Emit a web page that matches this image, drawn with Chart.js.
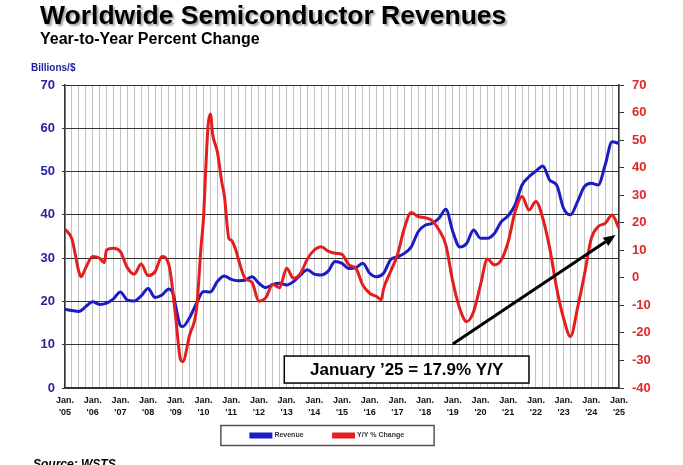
<!DOCTYPE html>
<html>
<head>
<meta charset="utf-8">
<script src="https://cdn.jsdelivr.net/npm/chart.js@4"></script>
<style>
  html, body { margin: 0; padding: 0; background: #fff; width: 683px; height: 465px; overflow: hidden; }
  body { font-family: "Liberation Sans", Arial, sans-serif; }
  #wrap { position: relative; width: 683px; height: 465px; }
  canvas { position: absolute; left: 0; top: 0; }
  .t { position: absolute; white-space: nowrap; color: #000; }
  #title { left: 40px; top: 0px; font-size: 26.5px; font-weight: bold; text-shadow: 2px 2px 2px rgba(0,0,0,.35); }
  #sub { left: 40px; top: 30px; font-size: 16px; font-weight: bold; }
  #units { left: 31px; top: 62px; font-size: 10px; font-weight: bold; color: #1f1f9e; }
  #src { left: 33px; top: 457px; font-size: 12px; font-weight: bold; font-style: italic; }
</style>
</head>
<body>
<div id="wrap">
  <canvas id="chart" width="683" height="465"></canvas>
  <div class="t" id="title">Worldwide Semiconductor Revenues</div>
  <div class="t" id="sub">Year-to-Year Percent Change</div>
  <div class="t" id="units">Billions/$</div>
  <div class="t" id="src">Source: WSTS</div>
</div>
<script>
// months counted from Jan 2005 (0 = Jan '05, 240 = Jan '25)
const revMonths = [0,3,6,9,12,15,18,21,24,27,30,33,36,39,42,45,47,48,50,51,54,57,60,63,66,69,72,75,78,
  81,84,87,90,93,96,99,102,105,108,111,114,117,120,123,126,129,132,135,138,141,144,147,150,153,156,159,
  162,165,168,171,174,177,180,183,186,189,192,195,198,201,204,207,210,213,216,219,222,225,228,231,234,237,240];
const revenue = [18.2,17.9,17.7,18.8,19.9,19.3,19.6,20.6,22.2,20.3,20.1,21.3,23.0,20.9,21.5,22.9,21.5,18.8,14.4,14.2,16.3,19.6,22.3,22.2,24.6,25.9,25.1,24.8,24.9,
  25.7,24.2,23.2,23.9,24.2,23.8,24.6,26.1,27.3,26.3,26.1,27.0,29.2,28.8,27.6,27.8,28.8,26.5,25.7,26.5,29.6,30.3,31.1,32.6,36.1,37.6,38.0,
  39.2,41.3,36.1,32.6,33.4,36.5,34.6,34.6,35.7,38.4,39.8,42.3,46.9,48.8,50.1,51.3,48.0,46.9,41.5,40.0,43.0,46.5,47.3,46.9,51.5,56.9,56.5];

const yoyMonths = [0,3,6,7,9,12,15,17,18,21,24,27,30,33,36,39,42,45,46,48,50,51,54,57,59,60,61,62,63,64,66,68,69,71,72,74,75,78,
  81,84,87,90,93,96,99,102,105,108,111,114,117,120,123,126,129,132,135,137,138,141,144,147,150,153,156,159,
  162,165,168,171,174,177,180,183,186,189,192,195,198,201,204,207,210,213,216,219,222,225,228,231,234,237,240];
const yoyChange = [17.7,14.1,2.2,0.4,3.7,7.7,7.1,5.5,10.1,10.7,9.5,3.7,1.3,5.0,0.8,2.2,7.7,4.7,-0.2,-14.7,-29.5,-30.4,-20.7,-11.1,11.9,21.6,39.8,55.5,59.5,51.9,45.8,34.3,30.1,14.3,13.7,10.1,7.1,-0.2,
  -1.6,-8.5,-7.2,-2.4,-3.6,3.5,-0.2,1.6,6.8,10.1,11.3,9.7,8.9,8.5,4.7,3.5,-2.6,-5.6,-6.8,-8.0,-4.0,2.2,8.3,18.0,23.7,22.2,21.8,20.8,
  17.4,11.9,-1.4,-11.1,-15.9,-12.3,-2.6,6.8,4.7,6.5,13.1,24.0,29.5,24.6,27.7,21.6,10.7,-3.8,-14.7,-21.3,-11.1,1.0,14.3,18.6,19.8,22.8,18.0];

const yearLabels = ['05','06','07','08','09','10','11','12','13','14','15','16','17','18','19','20','21','22','23','24','25'];

const noteText = 'January ’25 = 17.9% Y/Y';

const BLUE = '#1c1cc4';
const RED = '#e41e1e';
const FONT = '"Liberation Sans", Arial, sans-serif';
const LEGEND_PAD = 30;
const LEGEND_LIFT = 16;

const notePlugin = {
  id: 'note',
  beforeDraw(chart) {
    // pull the legend up under the axis labels
    const lg = chart.legend;
    if (lg && !lg._lifted) {
      lg.top -= LEGEND_LIFT;
      lg.bottom -= LEGEND_LIFT;
      lg._lifted = true;
    }
  },
  afterDatasetsDraw(chart) {
    const { ctx, scales: { x, y1 } } = chart;
    // callout box
    const l = x.getPixelForValue(95), r = x.getPixelForValue(201);
    const t = y1.getPixelForValue(-28.4), b = y1.getPixelForValue(-38.2);
    ctx.save();
    ctx.fillStyle = '#fff';
    ctx.fillRect(l, t, r - l, b - t);
    ctx.strokeStyle = '#000';
    ctx.lineWidth = 1.5;
    ctx.strokeRect(l, t, r - l, b - t);
    ctx.fillStyle = '#000';
    ctx.font = 'bold 17px ' + FONT;
    ctx.textAlign = 'center';
    ctx.textBaseline = 'middle';
    ctx.fillText(noteText, (l + r) / 2, (t + b) / 2 + 1);
    // arrow
    const x0 = x.getPixelForValue(168), y0 = y1.getPixelForValue(-24);
    const x2 = x.getPixelForValue(238.5), y2 = y1.getPixelForValue(15.5);
    const ang = Math.atan2(y2 - y0, x2 - x0);
    const hl = 12, hw = 5;
    ctx.strokeStyle = '#000';
    ctx.lineWidth = 3;
    ctx.beginPath();
    ctx.moveTo(x0, y0);
    ctx.lineTo(x2 - hl * Math.cos(ang), y2 - hl * Math.sin(ang));
    ctx.stroke();
    ctx.beginPath();
    ctx.moveTo(x2, y2);
    ctx.lineTo(x2 - hl * Math.cos(ang) + hw * Math.sin(ang), y2 - hl * Math.sin(ang) - hw * Math.cos(ang));
    ctx.lineTo(x2 - hl * Math.cos(ang) - hw * Math.sin(ang), y2 - hl * Math.sin(ang) + hw * Math.cos(ang));
    ctx.closePath();
    ctx.fillStyle = '#000';
    ctx.fill();
    ctx.restore();
  },
  afterDraw(chart) {
    // frame round the legend
    const lg = chart.legend;
    const boxes = lg && lg.legendHitBoxes;
    if (!boxes || !boxes.length) return;
    const first = boxes[0], last = boxes[boxes.length - 1];
    const ctx = chart.ctx;
    ctx.save();
    ctx.strokeStyle = '#555';
    ctx.lineWidth = 1.5;
    const cy = lg.top + LEGEND_PAD + first.height / 2;
    const left = first.left - 30, right = last.left + last.width + 30;
    ctx.strokeRect(left, cy - 10, right - left, 20);
    ctx.restore();
  }
};

new Chart(document.getElementById('chart'), {
  type: 'line',
  data: {
    datasets: [{
      label: 'Revenue',
      data: revMonths.map((m, i) => ({ x: m, y: revenue[i] })),
      borderColor: BLUE,
      backgroundColor: BLUE,
      borderWidth: 3,
      yAxisID: 'y',
      order: 2,
      cubicInterpolationMode: 'monotone'
    }, {
      label: 'Y/Y % Change',
      data: yoyMonths.map((m, i) => ({ x: m, y: yoyChange[i] })),
      borderColor: RED,
      backgroundColor: RED,
      borderWidth: 3,
      yAxisID: 'y1',
      order: 1,
      cubicInterpolationMode: 'monotone'
    }]
  },
  options: {
    responsive: false,
    animation: false,
    layout: { padding: { top: 85, left: 0, right: 28, bottom: 0 } },
    elements: { point: { radius: 0 } },
    plugins: {
      tooltip: { enabled: false },
      legend: {
        position: 'bottom',
        labels: {
          boxWidth: 20,
          boxHeight: 3,
          padding: LEGEND_PAD,
          color: '#333',
          font: { size: 7, weight: 'bold', family: FONT },
          sort: (a, b) => a.datasetIndex - b.datasetIndex
        }
      }
    },
    scales: {
      x: {
        type: 'linear',
        min: 0,
        max: 240,
        ticks: {
          stepSize: 3,
          autoSkip: false,
          maxRotation: 0,
          padding: 7,
          color: '#111',
          font: { size: 9, weight: 'bold', family: FONT, lineHeight: 1.3 },
          callback: v => v % 12 === 0 ? ['Jan.', "'" + yearLabels[v / 12]] : ''
        },
        grid: { color: '#c2c2c2', drawTicks: false },
        border: { color: '#333', width: 1.5 },
        afterFit: s => { s.height = 30; }
      },
      y: {
        position: 'left',
        min: 0,
        max: 70,
        ticks: {
          stepSize: 10,
          padding: 7,
          color: '#24249c',
          font: { size: 13, weight: 'bold', family: FONT }
        },
        grid: { color: '#333', tickLength: 3 },
        border: { color: '#333', width: 1.5 },
        afterFit: s => { s.width = 65; }
      },
      y1: {
        position: 'right',
        min: -40,
        max: 70,
        ticks: {
          stepSize: 10,
          padding: 8,
          color: '#e02828',
          font: { size: 13, weight: 'bold', family: FONT }
        },
        grid: { drawOnChartArea: false, tickLength: 5, color: '#333' },
        border: { color: '#333', width: 1.5 },
        afterFit: s => { s.width = 36; }
      }
    }
  },
  plugins: [notePlugin]
});
</script>
</body>
</html>
